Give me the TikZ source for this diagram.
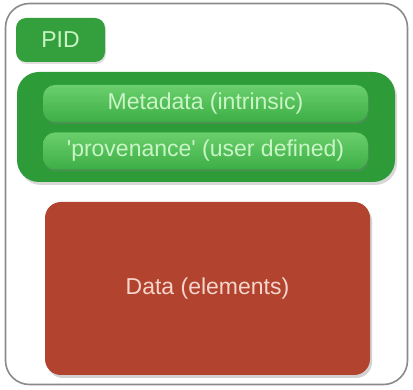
\documentclass[tikz,border=0pt]{standalone}
\usepackage{fontspec}
\setmainfont{Liberation Sans}
\usetikzlibrary{shadows}
\definecolor{frameg}{HTML}{8A8A8A}
\definecolor{contg}{HTML}{2C9B38}
\definecolor{bartop}{HTML}{6ACF6C}
\definecolor{barbot}{HTML}{3DAE45}
\definecolor{bartext}{HTML}{C9F5C6}
\definecolor{pidg}{HTML}{349F3D}
\definecolor{datar}{HTML}{B2432E}
\definecolor{datatext}{HTML}{F6D6CC}
\tikzset{
  lbl/.style={font=\fontsize{23}{27}\selectfont, inner sep=0pt, outer sep=0pt},
  framebox/.style={draw=frameg, line width=1.6pt, fill=white, rounded corners=24pt, inner sep=0pt},
  pidbox/.style={lbl, fill=pidg, text=bartext, rounded corners=10pt, drop shadow={opacity=0.25, shadow xshift=1pt, shadow yshift=-2pt}},
  contbox/.style={inner sep=0pt, fill=contg, rounded corners=22pt, drop shadow={opacity=0.3, shadow xshift=2pt, shadow yshift=-3pt}},
  barbox/.style={lbl, top color=bartop, bottom color=barbot, text=bartext, rounded corners=12pt, drop shadow={opacity=0.35, shadow xshift=1pt, shadow yshift=-2pt}},
  databox/.style={lbl, fill=datar, text=datatext, rounded corners=16pt, drop shadow={opacity=0.35, shadow xshift=2pt, shadow yshift=-3pt}}
}
\begin{document}
\begin{tikzpicture}[x=1pt, y=-1pt]
\useasboundingbox (0,0) rectangle (413,390);
\node[framebox, minimum width=402pt, minimum height=381pt] (frame) at (206.5,194) {};
\node[pidbox, minimum width=89pt, minimum height=44pt] (pid) at (60.5,40) {PID};
\node[contbox, minimum width=378pt, minimum height=110pt] (meta) at (206,127) {};
\node[barbox, minimum width=325pt, minimum height=37pt] (intr) at (205.5,103.5) {Metadata (intrinsic)};
\node[barbox, minimum width=325pt, minimum height=37pt] (prov) at (205.5,151) {\textquotesingle provenance\textquotesingle{} (user defined)};
\node[databox, minimum width=325pt, minimum height=173pt] (data) at (207.5,288.5) {Data (elements)};
\end{tikzpicture}
\end{document}
